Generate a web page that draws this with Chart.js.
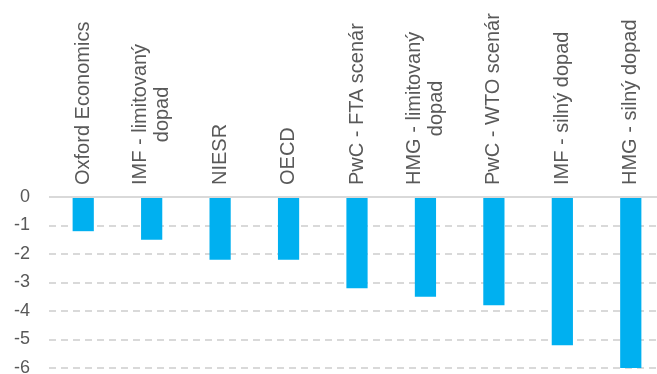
<!DOCTYPE html>
<html>
<head>
<meta charset="utf-8">
<style>
  html, body { margin: 0; padding: 0; background: #fff; overflow: hidden; }
  #wrap { position: relative; width: 666px; height: 384px; }
</style>
<script src="https://cdn.jsdelivr.net/npm/chart.js@4"></script>
</head>
<body>
<div id="wrap"><canvas id="chart"></canvas></div>
<script>
// data
const categories = [
    'Oxford Economics',
    ['IMF - limitovaný', 'dopad'],
    'NIESR',
    'OECD',
    'PwC - FTA scenár',
    ['HMG - limitovaný', 'dopad'],
    'PwC - WTO scenár',
    'IMF - silný dopad',
    'HMG - silný dopad'
];
const values = [-1.2, -1.5, -2.2, -2.2, -3.2, -3.5, -3.8, -5.2, -6.0];
const yTicks = [0, -1, -2, -3, -4, -5, -6];

const textColor = '#595959';
const fontFamily = '"Liberation Sans", Arial, sans-serif';

// category names sit above the plot, rotated, lines centred on each other
const topLabels = {
    id: 'topLabels',
    afterDraw(chart) {
        const ctx = chart.ctx;
        const x = chart.scales.x;
        const base = chart.chartArea.top - 12;
        const lineH = 22;
        ctx.save();
        ctx.font = '20px ' + fontFamily;
        ctx.fillStyle = textColor;
        ctx.textAlign = 'center';
        ctx.textBaseline = 'middle';
        categories.forEach((lab, i) => {
            const lines = Array.isArray(lab) ? lab : [lab];
            const w = Math.max(...lines.map(l => ctx.measureText(l).width));
            ctx.save();
            ctx.translate(x.getPixelForValue(i), base);
            ctx.rotate(-Math.PI / 2);
            lines.forEach((l, j) => {
                ctx.fillText(l, w / 2, (j - (lines.length - 1) / 2) * lineH);
            });
            ctx.restore();
        });
        ctx.restore();
    }
};

new Chart(document.getElementById('chart').getContext('2d'), {
    type: 'bar',
    data: {
        labels: categories,
        datasets: [{
            data: values,
            backgroundColor: '#00B0F0',
            borderWidth: 0,
            barPercentage: 0.31,
            categoryPercentage: 1
        }]
    },
    options: {
        responsive: true,
        maintainAspectRatio: false,
        animation: false,
        layout: { padding: { top: 197, bottom: 16, left: 0, right: 1 } },
        plugins: { legend: { display: false }, tooltip: { enabled: false } },
        scales: {
            x: { display: false },
            y: {
                min: -6,
                max: 0,
                afterFit: s => {
                    s.width = 49;
                    s.paddingTop = 0;
                    s.paddingBottom = 0;
                },
                afterBuildTicks: s => { s.ticks = yTicks.map(v => ({ value: v })); },
                ticks: {
                    color: textColor,
                    padding: 19,
                    font: { family: fontFamily, size: 18 }
                },
                grid: {
                    color: '#d9d9d9',
                    lineWidth: 2,
                    drawTicks: false
                },
                border: {
                    display: false,
                    dash: c => (c.tick && c.tick.value === 0) ? [] : [7, 5]
                }
            }
        }
    },
    plugins: [topLabels]
});
</script>
</body>
</html>
